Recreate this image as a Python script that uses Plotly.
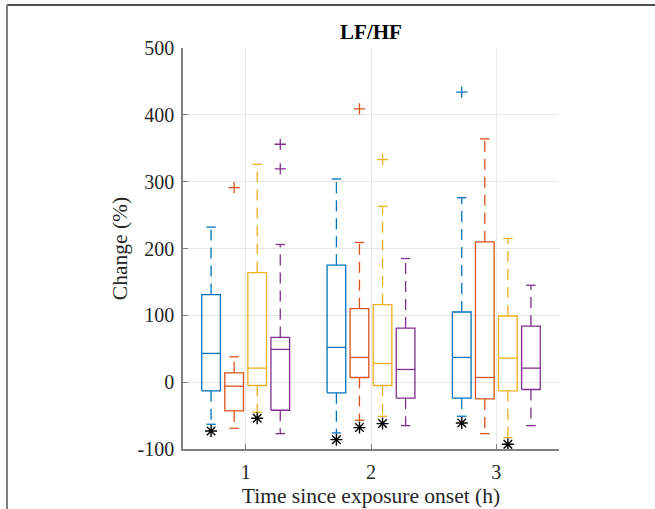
import plotly.graph_objects as go

# ---- data ----
groups = [1, 2, 3]
tick_labels = ["1", "2", "3"]
y_ticks = [-100, 0, 100, 200, 300, 400, 500]
y_tick_labels = ["-100", "0", "100", "200", "300", "400", "500"]
colors = ["#0072BD", "#D95319", "#EDB120", "#7E2F8E"]
offsets = [-0.276, -0.092, 0.092, 0.276]

# per series: list over groups
upper_whisker = [[232, 304, 276], [38, 209, 364], [326, 263, 215], [206, 185, 145]]
q3 = [[131, 175, 105], [14, 110, 210], [164, 116, 99], [67, 81, 84]]
median = [[43, 52, 37], [-6, 37, 7], [21, 28, 36], [49, 19, 21]]
q1 = [[-13, -16, -24], [-43, 7, -25], [-5, -5, -13], [-42, -24, -11]]
lower_whisker = [[-63, -76, -51], [-69, -57, -77], [-45, -51, -83], [-77, -65, -65]]
# outliers: (group, value)
outliers = [
    [(3, 434)],
    [(1, 291), (2, 409)],
    [(2, 333)],
    [(1, 356), (1, 319)],
]
# asterisk markers: (group, value) per series
stars = [
    [(1, -73), (2, -86), (3, -61)],
    [(2, -68)],
    [(1, -54), (2, -62), (3, -93)],
    [],
]

box_w = 0.149
cap_w = 0.075

fig = go.Figure()

for s in range(4):
    c = colors[s]
    bx, by = [], []
    mx, my = [], []
    wx, wy = [], []
    cx_, cy_ = [], []
    for g in range(3):
        x = groups[g] + offsets[s]
        l, r = x - box_w / 2, x + box_w / 2
        bx += [l, r, r, l, l, None]
        by += [q1[s][g], q1[s][g], q3[s][g], q3[s][g], q1[s][g], None]
        mx += [l, r, None]
        my += [median[s][g], median[s][g], None]
        wx += [x, x, None, x, x, None]
        wy += [q3[s][g], upper_whisker[s][g], None, q1[s][g], lower_whisker[s][g], None]
        cx_ += [x - cap_w / 2, x + cap_w / 2, None, x - cap_w / 2, x + cap_w / 2, None]
        cy_ += [upper_whisker[s][g], upper_whisker[s][g], None,
                lower_whisker[s][g], lower_whisker[s][g], None]
    fig.add_trace(go.Scatter(x=wx, y=wy, mode="lines",
                             line=dict(color=c, width=1.3, dash="11px,7px"),
                             showlegend=False, hoverinfo="skip"))
    fig.add_trace(go.Scatter(x=cx_, y=cy_, mode="lines",
                             line=dict(color=c, width=1.3),
                             showlegend=False, hoverinfo="skip"))
    fig.add_trace(go.Scatter(x=bx, y=by, mode="lines",
                             line=dict(color=c, width=1.3),
                             showlegend=False, hoverinfo="skip"))
    fig.add_trace(go.Scatter(x=mx, y=my, mode="lines",
                             line=dict(color=c, width=1.3),
                             showlegend=False, hoverinfo="skip"))
    if outliers[s]:
        fig.add_trace(go.Scatter(
            x=[groups[g - 1] + offsets[s] for g, v in outliers[s]],
            y=[v for g, v in outliers[s]], mode="markers",
            marker=dict(symbol="cross-thin-open", size=8, color=c,
                        line=dict(color=c, width=1.3)),
            showlegend=False, hoverinfo="skip"))
    if stars[s]:
        fig.add_trace(go.Scatter(
            x=[groups[g - 1] + offsets[s] for g, v in stars[s]],
            y=[v for g, v in stars[s]], mode="markers",
            marker=dict(symbol="asterisk-open", size=10, color="black",
                        line=dict(color="black", width=1.4)),
            showlegend=False, hoverinfo="skip"))

font_family = "Liberation Serif"

fig.update_layout(
    width=655, height=509,
    margin=dict(l=183, r=96, t=48, b=60, autoexpand=False),
    paper_bgcolor="white", plot_bgcolor="white",
    font=dict(family=font_family, size=20, color="#262626"),
    title=dict(text="<b>LF/HF</b>", x=0.5, xanchor="center", xref="paper",
               y=1, yref="container", yanchor="top", pad=dict(t=24),
               font=dict(family=font_family, size=21, color="black"),
               automargin=False),
    showlegend=False,
)
fig.update_xaxes(
    range=[0.5, 3.5], tickvals=groups, ticktext=tick_labels,
    showgrid=True, gridcolor="#e6e6e6", gridwidth=1,
    showline=True, linecolor="#808080", linewidth=1.5,
    ticks="inside", ticklen=5, tickcolor="#808080",
    zeroline=False, automargin=False, ticklabelstandoff=4,
    title=dict(text="Time since exposure onset (h)", standoff=6,
               font=dict(family=font_family, size=21.5, color="#262626")),
    tickfont=dict(family=font_family, size=20, color="#262626"),
)
fig.update_yaxes(
    range=[-100, 500], tickvals=y_ticks, ticktext=y_tick_labels,
    showgrid=True, gridcolor="#e6e6e6", gridwidth=1,
    showline=True, linecolor="#808080", linewidth=1.5,
    ticks="inside", ticklen=5, tickcolor="#808080",
    zeroline=False, automargin=False, ticklabelstandoff=3,
    title=dict(text="Change (%)", standoff=4,
               font=dict(family=font_family, size=21.5, color="#262626")),
    tickfont=dict(family=font_family, size=20, color="#262626"),
)

# outer frame (top and left edges)
fig.add_shape(type="line", xref="paper", yref="paper",
              x0=(7 - 183) / 376, x1=(660 - 183) / 376,
              y0=(449 - 5) / 401, y1=(449 - 5) / 401,
              line=dict(color="#505050", width=2))
fig.add_shape(type="line", xref="paper", yref="paper",
              x0=(7 - 183) / 376, x1=(7 - 183) / 376,
              y0=(449 - 5) / 401, y1=(449 - 515) / 401,
              line=dict(color="#808080", width=2))

fig.write_html(
    "out.html",
    config={"displayModeBar": False},
    post_script="document.body.style.margin='0';document.body.style.overflow='hidden';",
)
